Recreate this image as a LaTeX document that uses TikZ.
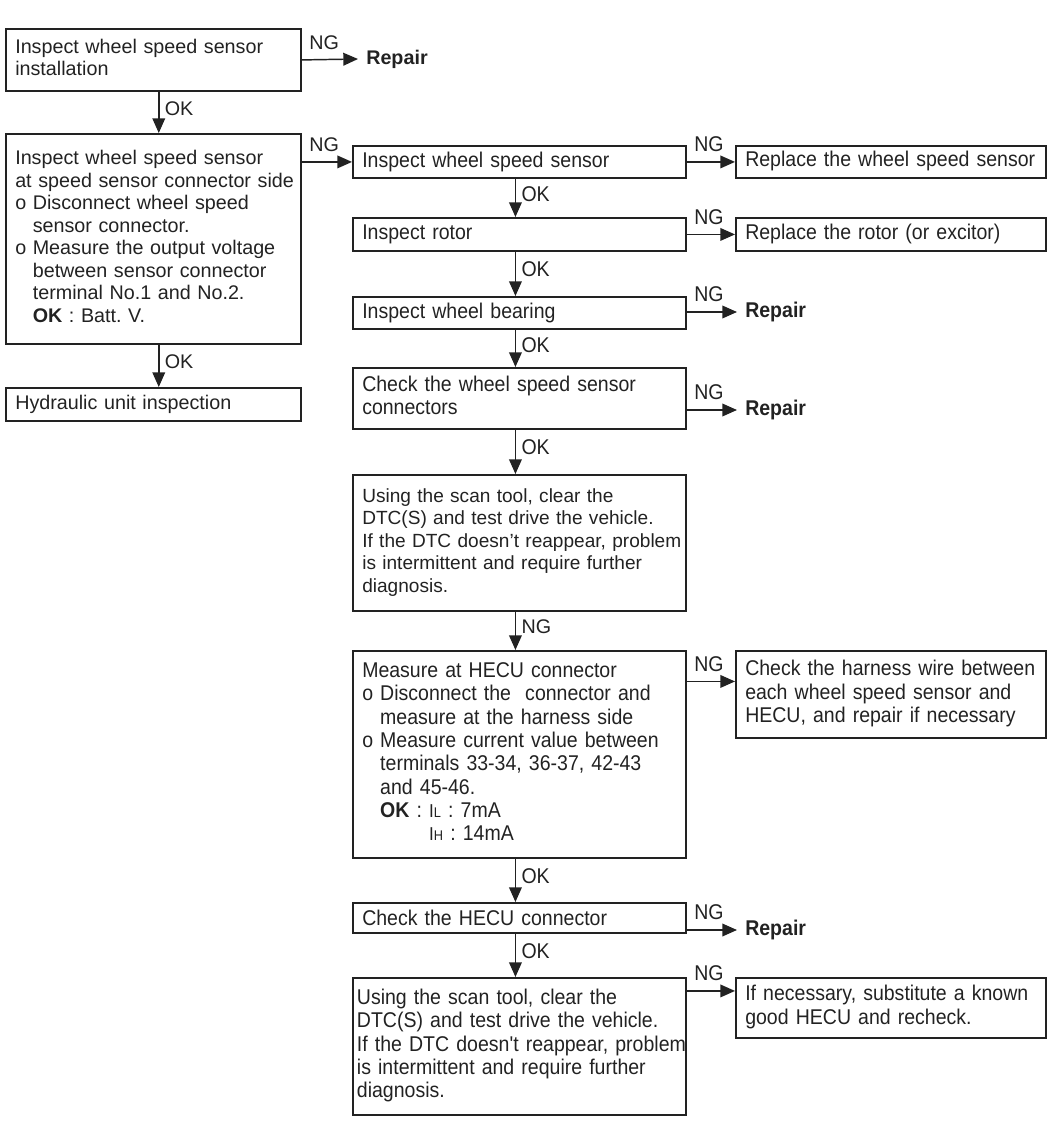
\documentclass[tikz,border=0pt]{standalone}
\usepackage{fontspec}
\setmainfont{Liberation Sans}
\newfontfamily\narrowsans{Liberation Sans}[FakeStretch=0.915]
\usetikzlibrary{arrows.meta,calc,positioning}
\definecolor{ink}{HTML}{222222}
\frenchspacing
\newcommand{\lfont}{\fontsize{14.8}{16.9}\selectfont}
\newcommand{\mfont}{\fontsize{14.3}{16.9}\selectfont}
\newcommand{\rfont}{\narrowsans\fontsize{16}{17.5}\selectfont}
\newcommand{\boxlines}[1]{\begin{tabular}{@{}l@{}}#1\end{tabular}}
\newcommand{\oind}{\hphantom{o }}
\newcommand{\ival}[1]{{\fontsize{14}{14}\selectfont I}{\fontsize{10.5}{10.5}\selectfont #1}}

\begin{document}
\begin{tikzpicture}[x=0.75pt,y=-0.75pt,
  every node/.style={font=\rfont,text=ink},
  leftbox/.style={draw=ink,line width=1.4pt,anchor=north west,inner xsep=7pt,inner ysep=0pt,
    minimum width=221.25pt,text width=207.25pt,align=left,font=\lfont},
  stepbox/.style={leftbox,minimum width=249.75pt,text width=235.75pt,inner xsep=7pt,font=\rfont},
  fixbox/.style={stepbox,minimum width=232.5pt,text width=218.5pt},
  repair/.style={anchor=west,inner xsep=6pt,font=\rfont\bfseries},
  flow/.style={ink,line width=1.1pt,-{Triangle[length=11pt,width=9.5pt]}},
  ngtag/.style={pos=0,above right,inner sep=2pt,xshift=3pt,yshift=5pt},
  oktag/.style={pos=0.4,right,inner sep=2pt,xshift=2pt}]
 \useasboundingbox (0,0) rectangle (1050,1134);
 % left column
 \node[leftbox,minimum height=46.5pt] (inst) at (5,28) {\boxlines{Inspect wheel speed sensor\\installation}};
 \node[repair,font=\lfont\bfseries] (rep0) at (358,59) {Repair};
 \node[leftbox,minimum height=157.5pt] (volt) at (5,133) {\boxlines{Inspect wheel speed sensor\\at speed sensor connector side\\o Disconnect wheel speed\\\oind sensor connector.\\o Measure the output voltage\\\oind between sensor connector\\\oind terminal No.1 and No.2.\\\oind\textbf{OK} : Batt. V.}};
 \node[leftbox,minimum height=24.75pt] (hyd) at (5,387) {Hydraulic unit inspection};
 % right column
 \node[stepbox,minimum height=24pt] (sens) at (352,145) {Inspect wheel speed sensor};
 \node[fixbox,minimum height=24pt] (newsens) at (735,145) {\boxlines{Replace the wheel speed sensor}};
 \node[stepbox,minimum height=24.75pt] (rotor) at (352,217) {Inspect rotor};
 \node[fixbox,minimum height=24.75pt] (newrotor) at (735,217) {\boxlines{Replace the rotor (or excitor)}};
 \node[stepbox,minimum height=24pt] (bear) at (352,296) {Inspect wheel bearing};
 \node[repair] (rep1) at (737,312) {Repair};
 \node[stepbox,minimum height=45.75pt] (conn) at (352,367) {\boxlines{Check the wheel speed sensor\\connectors}};
 \node[repair] (rep2) at (737,410) {Repair};
 \node[stepbox,minimum height=102pt,font=\mfont] (scan) at (352,474) {\boxlines{Using the scan tool, clear the\\DTC(S) and test drive the vehicle.\\If the DTC doesn't reappear, problem\\is intermittent and require further\\diagnosis.}};
 \node[stepbox,minimum height=155.25pt] (hecu) at (352,650) {\boxlines{Measure at HECU connector\\o Disconnect the\ \ connector and\\\oind measure at the harness side\\o Measure current value between\\\oind terminals 33-34, 36-37, 42-43\\\oind and 45-46.\\\oind\textbf{OK} : \ival{L} : 7mA\\\oind\hphantom{\textbf{OK} : }\ival{H} : 14mA}};
 \node[fixbox,minimum height=65.25pt] (harn) at (735,650) {\boxlines{Check the harness wire between\\each wheel speed sensor and\\HECU, and repair if necessary}};
 \node[stepbox,minimum height=22.5pt] (hcon) at (352,902) {Check the HECU connector};
 \node[repair] (rep3) at (737,930) {Repair};
 \node[stepbox,minimum height=102.75pt,inner xsep=3pt,text width=243.75pt] (rescan) at (352,977) {\boxlines{Using the scan tool, clear the\\DTC(S) and test drive the vehicle.\\If the DTC doesn't reappear, problem\\is intermittent and require further\\diagnosis.}};
 \node[fixbox,minimum height=45pt] (subst) at (735,977) {\boxlines{If necessary, substitute a known\\good HECU and recheck.}};
 \coordinate (ngh) at ([yshift=9.75pt]harn.west);
 \coordinate (ngs) at ([yshift=12.75pt]subst.west);
 % connectors
 \draw[flow] (inst.east) -- (rep0.west) node[ngtag,font=\lfont] {NG};
 \draw[flow] ([xshift=4pt]inst.south) -- ([xshift=4pt]volt.north) node[oktag,font=\lfont] {OK};
 \draw[flow] (sens.west -| volt.east) -- (sens.west) node[ngtag,font=\lfont] {NG};
 \draw[flow] ([xshift=4pt]volt.south) -- ([xshift=4pt]hyd.north) node[oktag,font=\lfont] {OK};
 \draw[flow] (sens.east) -- (newsens.west) node[ngtag] {NG};
 \draw[flow] ([xshift=-3pt]sens.south) -- ([xshift=-3pt]rotor.north) node[oktag] {OK};
 \draw[flow] (rotor.east) -- (newrotor.west) node[ngtag] {NG};
 \draw[flow] ([xshift=-3pt]rotor.south) -- ([xshift=-3pt]bear.north) node[oktag] {OK};
 \draw[flow] (rep1.west -| bear.east) -- (rep1.west) node[ngtag] {NG};
 \draw[flow] ([xshift=-3pt]bear.south) -- ([xshift=-3pt]conn.north) node[oktag] {OK};
 \draw[flow] (rep2.west -| conn.east) -- (rep2.west) node[ngtag] {NG};
 \draw[flow] ([xshift=-3pt]conn.south) -- ([xshift=-3pt]scan.north) node[oktag] {OK};
 \draw[flow] ([xshift=-3pt]scan.south) -- ([xshift=-3pt]hecu.north) node[oktag,font=\lfont] {NG};
 \draw[flow] (ngh -| hecu.east) -- (ngh) node[ngtag] {NG};
 \draw[flow] ([xshift=-3pt]hecu.south) -- ([xshift=-3pt]hcon.north) node[oktag] {OK};
 \draw[flow] (rep3.west -| hcon.east) -- (rep3.west) node[ngtag] {NG};
 \draw[flow] ([xshift=-3pt]hcon.south) -- ([xshift=-3pt]rescan.north) node[oktag] {OK};
 \draw[flow] (ngs -| rescan.east) -- (ngs) node[ngtag] {NG};
\end{tikzpicture}
\end{document}
